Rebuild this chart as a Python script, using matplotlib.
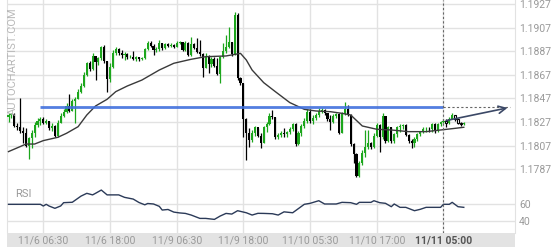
import matplotlib
matplotlib.use("Agg")
import matplotlib.pyplot as plt
import matplotlib.transforms as mtransforms
from matplotlib.patches import Rectangle

plt.rcParams['font.family'] = ['Roboto', 'DejaVu Sans']

# 30-minute candles, EUR/USD style prices
first_open = 1.18316
closes = [
    1.18330, 1.18339, 1.18237, 1.18226, 1.18197, 1.18175, 1.18067, 1.18132, 1.18175, 1.18245,
    1.18282, 1.18293, 1.18265, 1.18282, 1.18217, 1.18237, 1.18152, 1.18265, 1.18322, 1.18358,
    1.18406, 1.18367, 1.18451, 1.18468, 1.18528, 1.18576, 1.18669, 1.18768, 1.18717, 1.18830,
    1.18782, 1.18810, 1.18903, 1.18787, 1.18632, 1.18739, 1.18852, 1.18886, 1.18858, 1.18838,
    1.18847, 1.18818, 1.18824, 1.18802, 1.18818, 1.18802, 1.18810, 1.18889, 1.18943, 1.18914,
    1.18881, 1.18886, 1.18943, 1.18895, 1.18931, 1.18914, 1.18923, 1.18909, 1.18943, 1.18948,
    1.18881, 1.18943, 1.18838, 1.18931, 1.18900, 1.18866, 1.18844, 1.18731, 1.18830, 1.18762,
    1.18807, 1.18745, 1.18677, 1.18818, 1.18875, 1.18903, 1.18951, 1.18847, 1.19177, 1.18640,
    1.18598, 1.18293, 1.18180, 1.18118, 1.18180, 1.18226, 1.18152, 1.18096, 1.18226, 1.18254,
    1.18322, 1.18310, 1.18141, 1.18158, 1.18180, 1.18169, 1.18186, 1.18209, 1.18254, 1.18084,
    1.18180, 1.18237, 1.18282, 1.18358, 1.18282, 1.18302, 1.18330, 1.18367, 1.18372, 1.18344,
    1.18293, 1.18273, 1.18322, 1.18339, 1.18180, 1.18339, 1.18378, 1.18330, 1.18084, 1.17999,
    1.17813, 1.17926, 1.18011, 1.18062, 1.18096, 1.18056, 1.18152, 1.18245, 1.18141, 1.18322,
    1.18113, 1.18226, 1.18113, 1.18169, 1.18226, 1.18237, 1.18242, 1.18161, 1.18113, 1.18090,
    1.18124, 1.18169, 1.18186, 1.18209, 1.18214, 1.18209, 1.18254, 1.18192, 1.18254, 1.18271,
    1.18282, 1.18259, 1.18299, 1.18327, 1.18293, 1.18265, 1.18254, 1.18265,
]
highs = [
    1.18344, 1.18350, 1.18350, 1.18259, 1.18471, 1.18231, 1.18217, 1.18146, 1.18203, 1.18273,
    1.18302, 1.18316, 1.18316, 1.18293, 1.18282, 1.18259, 1.18245, 1.18288, 1.18344, 1.18378,
    1.18429, 1.18505, 1.18463, 1.18480, 1.18547, 1.18598, 1.18697, 1.18782, 1.18790, 1.18852,
    1.18824, 1.18824, 1.18914, 1.18923, 1.18790, 1.18768, 1.18881, 1.18903, 1.18895, 1.18881,
    1.18866, 1.18852, 1.18838, 1.18875, 1.18830, 1.18824, 1.18818, 1.18900, 1.18960, 1.18954,
    1.18929, 1.18909, 1.18965, 1.18937, 1.18943, 1.18937, 1.18937, 1.18931, 1.18954, 1.18960,
    1.18951, 1.18960, 1.18951, 1.18993, 1.18943, 1.18979, 1.18965, 1.18852, 1.18852, 1.18838,
    1.18818, 1.18818, 1.18810, 1.18830, 1.18937, 1.19008, 1.19078, 1.18951, 1.19205, 1.19191,
    1.18649, 1.18598, 1.18302, 1.18217, 1.18203, 1.18237, 1.18217, 1.18175, 1.18237, 1.18273,
    1.18344, 1.18372, 1.18316, 1.18175, 1.18197, 1.18217, 1.18197, 1.18226, 1.18265, 1.18265,
    1.18197, 1.18254, 1.18302, 1.18378, 1.18378, 1.18330, 1.18344, 1.18386, 1.18386, 1.18378,
    1.18350, 1.18330, 1.18339, 1.18350, 1.18350, 1.18358, 1.18443, 1.18415, 1.18339, 1.18096,
    1.18005, 1.17943, 1.18034, 1.18203, 1.18203, 1.18104, 1.18175, 1.18259, 1.18254, 1.18350,
    1.18322, 1.18237, 1.18226, 1.18180, 1.18237, 1.18254, 1.18254, 1.18254, 1.18169, 1.18124,
    1.18141, 1.18180, 1.18197, 1.18226, 1.18226, 1.18226, 1.18265, 1.18265, 1.18265, 1.18282,
    1.18293, 1.18293, 1.18316, 1.18344, 1.18330, 1.18293, 1.18273, 1.18273,
]
lows = [
    1.18273, 1.18302, 1.18226, 1.18203, 1.18175, 1.18090, 1.18062, 1.17955, 1.18048, 1.18146,
    1.18231, 1.18245, 1.18254, 1.18254, 1.18203, 1.18197, 1.18141, 1.18141, 1.18265, 1.18316,
    1.18350, 1.18358, 1.18367, 1.18259, 1.18463, 1.18519, 1.18570, 1.18660, 1.18706, 1.18711,
    1.18626, 1.18754, 1.18796, 1.18773, 1.18528, 1.18612, 1.18725, 1.18838, 1.18838, 1.18810,
    1.18796, 1.18802, 1.18810, 1.18796, 1.18790, 1.18787, 1.18796, 1.18802, 1.18881, 1.18903,
    1.18838, 1.18866, 1.18875, 1.18881, 1.18886, 1.18903, 1.18903, 1.18895, 1.18903, 1.18931,
    1.18875, 1.18875, 1.18830, 1.18830, 1.18886, 1.18858, 1.18830, 1.18655, 1.18725, 1.18683,
    1.18739, 1.18734, 1.18669, 1.18604, 1.18810, 1.18858, 1.18895, 1.18830, 1.18838, 1.18626,
    1.18584, 1.18146, 1.17949, 1.18062, 1.18104, 1.18152, 1.18141, 1.18048, 1.18090, 1.18189,
    1.18245, 1.18293, 1.18124, 1.18124, 1.18141, 1.18146, 1.18141, 1.18169, 1.18197, 1.18067,
    1.18076, 1.18152, 1.18217, 1.18259, 1.18265, 1.18254, 1.18288, 1.18316, 1.18344, 1.18330,
    1.18282, 1.18203, 1.18265, 1.18302, 1.18169, 1.18175, 1.18330, 1.18322, 1.18067, 1.17921,
    1.17802, 1.17808, 1.17907, 1.17977, 1.18039, 1.18039, 1.18048, 1.18141, 1.18020, 1.18124,
    1.18096, 1.18104, 1.18096, 1.18096, 1.18146, 1.18189, 1.18209, 1.18152, 1.18096, 1.18048,
    1.18062, 1.18113, 1.18152, 1.18180, 1.18189, 1.18189, 1.18186, 1.18180, 1.18189, 1.18237,
    1.18259, 1.18226, 1.18254, 1.18293, 1.18282, 1.18254, 1.18237, 1.18245,
]

# moving average, read at a few bars
ma_bars = [0, 4, 6, 9, 12, 17, 20, 24, 27, 30, 34, 37, 41, 46, 52, 57, 63, 68, 75, 80,
           82, 84, 88, 92, 97, 102, 106, 111, 115, 118, 122, 127, 132, 138, 144, 149, 154, 157]
ma_vals = [1.18020, 1.18062, 1.18084, 1.18084, 1.18113, 1.18141, 1.18175, 1.18231, 1.18330, 1.18406,
           1.18463, 1.18528, 1.18576, 1.18626, 1.18711, 1.18768, 1.18802, 1.18824, 1.18830, 1.18852,
           1.18796, 1.18711, 1.18604, 1.18528, 1.18435, 1.18378, 1.18364, 1.18358, 1.18344, 1.18330,
           1.18237, 1.18209, 1.18203, 1.18189, 1.18189, 1.18203, 1.18217, 1.18226]

rsi_bars = [0, 11, 12, 13, 14, 16, 18, 19, 22, 25, 27, 29, 30, 32, 34, 38, 40, 43, 45, 47,
            48, 50, 52, 53, 55, 57, 59, 61, 63, 66, 68, 71, 73, 75, 77, 79, 82, 84, 86, 88,
            91, 93, 95, 98, 102, 104, 107, 109, 113, 115, 118, 120, 121, 125, 126, 128, 130, 132, 133, 135,
            137, 140, 142, 144, 149, 150, 152, 153, 155, 157]
rsi_vals = [60, 60, 57.9, 60, 57.9, 55.1, 58, 62, 62.5, 70, 73.4, 71.5, 73.4, 77.4, 71.5, 71.5, 68.5, 66.4, 62.2, 59.4,
            61, 60.4, 57.5, 53, 53.7, 50.5, 49.5, 48.9, 46.9, 42.8, 42.8, 41.6, 45.7, 48.9, 48.1, 52.2, 49.7, 46.9, 49, 48.9,
            48.5, 46.9, 50.8, 49.7, 60, 61.2, 64.4, 60.4, 60.4, 62.4, 62, 60, 62.4, 62.4, 64.4, 62, 61.2, 57.1, 60.4, 56.3,
            56.3, 52.2, 53.9, 56.3, 56.3, 60, 60, 62.4, 57.1, 56.3]

price_ticks = [1.1787, 1.1807, 1.1827, 1.1847, 1.1867, 1.1887, 1.1907, 1.1927]
rsi_ticks = [40, 60]
time_ticks = [12, 35, 58, 81, 104, 127, 150]
time_labels = ['11/6 06:30', '11/6 18:00', '11/9 06:30', '11/9 18:00',
               '11/10 05:30', '11/10 17:00', '11/11 05:00']

level_price = 1.18395
level_start = 11
now_bar = 150
arrow_from = 1.18278
arrow_to_bar = 173

GREEN = '#1ca61c'
GRID = '#e2e2e2'
LABEL = '#9a9a9a'

W, H = 560, 250
fig = plt.figure(figsize=(W / 100, H / 100), dpi=100)
ax = fig.add_axes([7 / W, 1 - 183 / H, 508 / W, 183 / H])
ax_rsi = fig.add_axes([7 / W, 1 - 233 / H, 508 / W, 50 / H])

xlim = (-0.52, 174.66)
for a in (ax, ax_rsi):
    a.set_xlim(*xlim)
    a.set_xticks(time_ticks)
    a.tick_params(axis='x', length=0, labelbottom=False)
    a.grid(True, color=GRID, lw=1)
    a.set_axisbelow(True)
    for s in ('top', 'bottom'):
        a.spines[s].set_visible(False)
    for s in ('left', 'right'):
        a.spines[s].set_color(GRID)
    a.yaxis.tick_right()
    a.tick_params(axis='y', length=0, pad=3, labelsize=7.5, labelcolor=LABEL)

ax.set_ylim(1.17754, 1.19304)
ax.set_yticks(price_ticks)
ax.set_yticklabels([f'{p:.4f}' for p in price_ticks])

# candles
opens = [first_open] + closes[:-1]
for i, (o, c, h, l) in enumerate(zip(opens, closes, highs, lows)):
    up = c >= o
    col = GREEN if up else 'black'
    ax.vlines(i, l, h, color=col, lw=0.9, zorder=3)
    body = max(abs(c - o), 0.00003)
    if i > now_bar and not up:
        ax.bar(i, body, bottom=min(o, c), width=0.75, facecolor='white',
               edgecolor='black', lw=0.8, zorder=4)
    else:
        ax.bar(i, body, bottom=min(o, c), width=0.7, color=col, lw=0, zorder=4)

ax.plot(ma_bars, ma_vals, color='#3a3a3a', lw=1, zorder=5)

# key level and projection
ax.plot([level_start, now_bar], [level_price, level_price], color='#4070dd', lw=2.0,
        alpha=0.9, zorder=6, solid_capstyle='butt')
ax.plot([now_bar, arrow_to_bar], [level_price, level_price], color='#666666', lw=0.8,
        ls=(0, (2, 2)), zorder=6)
ax.annotate('', xy=(arrow_to_bar, level_price), xytext=(now_bar, arrow_from),
            arrowprops=dict(arrowstyle='->', color='#3b4866', lw=1.2, mutation_scale=13),
            zorder=7)
for a in (ax, ax_rsi):
    a.axvline(now_bar, color='#666666', lw=0.8, ls=(0, (2, 2)), zorder=6)

# RSI panel
ax_rsi.set_ylim(25, 86)
ax_rsi.set_yticks(rsi_ticks)
ax_rsi.plot(rsi_bars, rsi_vals, color='#2b3a58', lw=1, zorder=5)
fig.text(15 / W, 1 - 194 / H, 'RSI', color=LABEL, fontsize=8, va='center', ha='left')

# time axis band
fig.patches.append(Rectangle((7 / W, 3 / H), 508 / W, 14 / H, transform=fig.transFigure,
                             facecolor='#e3e3e3', edgecolor='none', zorder=0))
trans = mtransforms.blended_transform_factory(ax_rsi.transData, fig.transFigure)
for b, lab in zip(time_ticks, time_labels):
    last = b == now_bar
    fig.text(b, 10 / H, lab, transform=trans, ha='center', va='center', fontsize=7.5,
             color='#555555' if last else LABEL, fontweight='bold' if last else 'normal')

fig.text(12.5 / W, 1 - 61 / H, 'AUTOCHARTIST.COM', rotation=90, color='#b8b8b8',
         fontsize=8, ha='center', va='center')

fig.savefig('out.png', dpi=100)
